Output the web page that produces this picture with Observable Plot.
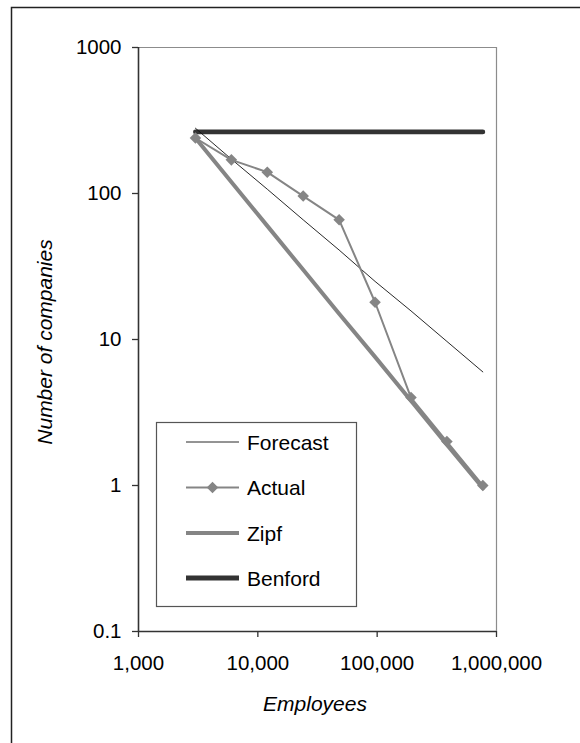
<!DOCTYPE html>
<html>
<head>
<meta charset="utf-8">
<script src="https://cdn.jsdelivr.net/npm/d3@7"></script>
<script src="https://cdn.jsdelivr.net/npm/@observablehq/plot@0.6"></script>
<style>
  body { margin: 0; background: #fff; }
  #chart { position: relative; width: 580px; height: 743px; overflow: hidden; }
</style>
</head>
<body>
<div id="chart"></div>
<script>
// Data
const employees = [3000, 6000, 12000, 24000, 48000, 96000, 192000, 384000, 768000];
const actual   = [240, 170, 140, 96, 66, 18, 4, 2, 1];
const zipf     = [240, 120, 60, 30, 15, 7.6, 3.8, 1.9, 0.96];
const forecast = [280, 172, 107, 66, 41, 25, 15.7, 9.7, 6];
const benford  = [264, 264, 264, 264, 264, 264, 264, 264, 264];

const xTicks = [1000, 10000, 100000, 1000000];
const xTickLabels = ["1,000", "10,000", "100,000", "1,000,000"];
const yTicks = [0.1, 1, 10, 100, 1000];
const yTickLabels = ["0.1", "1", "10", "100", "1000"];
const seriesNames = ["Forecast", "Actual", "Zipf", "Benford"];
const xTitle = "Employees";
const yTitle = "Number of companies";

const rows = (vals) => employees.map((e, i) => ({x: e, y: vals[i]}));
const xLab = new Map(xTicks.map((t, i) => [t, xTickLabels[i]]));
const yLab = new Map(yTicks.map((t, i) => [t, yTickLabels[i]]));

const font = "'Liberation Sans', Arial, sans-serif";
const W = 580, H = 743;
const mL = 138, mR = 84, mT = 47, mB = 112;

const plot = Plot.plot({
  width: W,
  height: H,
  marginLeft: mL,
  marginRight: mR,
  marginTop: mT,
  marginBottom: mB,
  style: {fontFamily: font, fontSize: "20.5px", color: "#000", background: "transparent"},
  x: {type: "log", domain: [1000, 1000000]},
  y: {type: "log", domain: [0.1, 1000]},
  marks: [
    Plot.ruleY([1000], {stroke: "#8c8c8c", strokeWidth: 1.2}),
    Plot.ruleX([1000000], {stroke: "#8c8c8c", strokeWidth: 1.2}),
    Plot.axisX({ticks: xTicks, tickFormat: (d) => xLab.get(d) ?? "", tickSize: 6, tickPadding: 18, stroke: "#333", fill: "#000", label: null, strokeWidth: 1.3}),
    Plot.axisY({ticks: yTicks, tickFormat: (d) => yLab.get(d) ?? "", tickSize: 6, tickPadding: 11, stroke: "#333", fill: "#000", label: null, strokeWidth: 1.3}),
    Plot.ruleY([0.1], {stroke: "#333", strokeWidth: 1.6}),
    Plot.ruleX([1000], {stroke: "#333", strokeWidth: 1.6}),
    Plot.line(rows(benford), {x: "x", y: "y", stroke: "#333", strokeWidth: 4.8}),
    Plot.line(rows(zipf), {x: "x", y: "y", stroke: "#858585", strokeWidth: 4}),
    Plot.line(rows(forecast), {x: "x", y: "y", stroke: "#111", strokeWidth: 0.9}),
    Plot.line(rows(actual), {x: "x", y: "y", stroke: "#858585", strokeWidth: 2}),
    Plot.dot(rows(actual), {x: "x", y: "y", symbol: "diamond2", r: 5.2, fill: "#858585", stroke: "none"})
  ]
});

const svg = d3.select(plot);

// outer frame (only top/left visible in the crop)
svg.insert("rect", ":first-child")
  .attr("x", 11.5).attr("y", 7.5)
  .attr("width", W + 20).attr("height", H + 20)
  .attr("fill", "none").attr("stroke", "#222").attr("stroke-width", 1.5);

// axis titles
svg.append("text")
  .attr("x", 315).attr("y", 711)
  .attr("text-anchor", "middle")
  .style("font-style", "italic")
  .style("font-size", "21px")
  .text(xTitle);

svg.append("text")
  .attr("transform", "translate(52,342) rotate(-90)")
  .attr("text-anchor", "middle")
  .style("font-style", "italic")
  .style("font-size", "21px")
  .text(yTitle);

// legend
const lg = svg.append("g");
lg.append("rect")
  .attr("x", 156.5).attr("y", 422.5).attr("width", 200).attr("height", 184)
  .attr("fill", "#fff").attr("stroke", "#555").attr("stroke-width", 1.2);
const ly = [442, 487.5, 533, 578];
const lstyle = [
  {stroke: "#111", w: 0.9},
  {stroke: "#858585", w: 2},
  {stroke: "#858585", w: 4},
  {stroke: "#333", w: 4.8}
];
seriesNames.forEach((name, i) => {
  lg.append("line")
    .attr("x1", 186).attr("x2", 239)
    .attr("y1", ly[i]).attr("y2", ly[i])
    .attr("stroke", lstyle[i].stroke).attr("stroke-width", lstyle[i].w);
  if (name === "Actual") {
    lg.append("path")
      .attr("transform", `translate(212.5,${ly[i]})`)
      .attr("d", d3.symbol(d3.symbolDiamond2, 5.2 * 5.2 * Math.PI)())
      .attr("fill", "#858585");
  }
  lg.append("text")
    .attr("x", 247).attr("y", ly[i] + 7.5)
    .attr("text-anchor", "start")
    .style("font-size", "21px")
    .text(name);
});

document.getElementById("chart").appendChild(plot);
</script>
</body>
</html>
